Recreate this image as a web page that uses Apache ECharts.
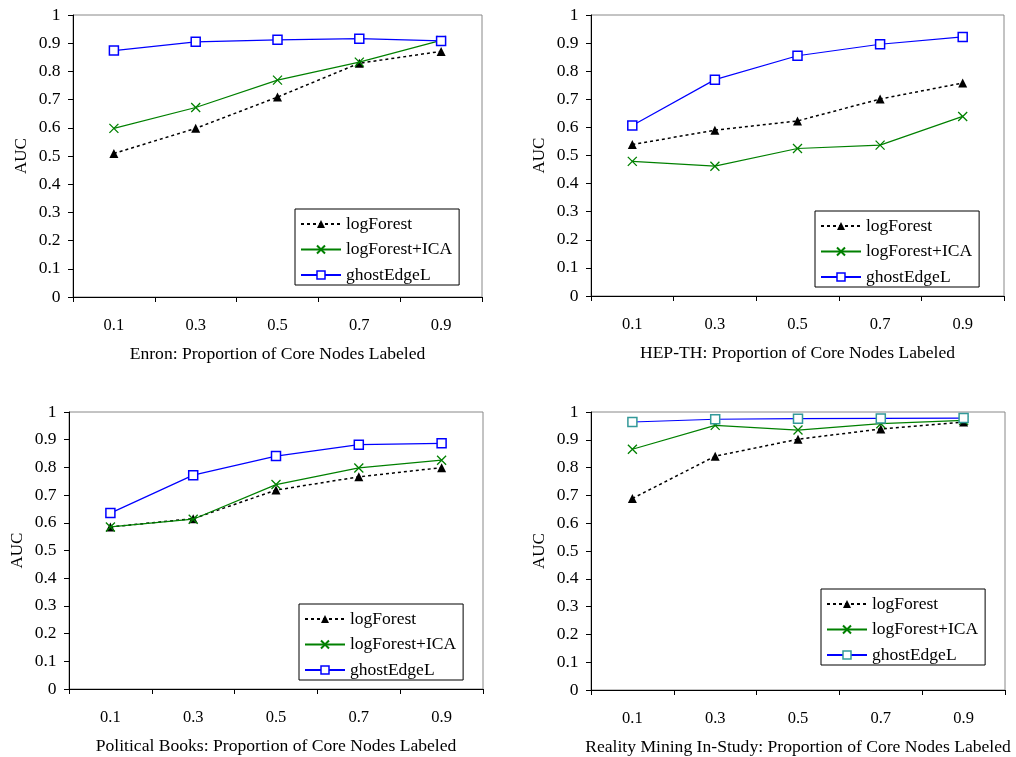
<!DOCTYPE html>
<html>
<head>
<meta charset="utf-8">
<script src="https://cdn.jsdelivr.net/npm/echarts@6/dist/echarts.min.js"></script>
<style>
html,body{margin:0;padding:0;background:#fff;}
#chart{width:1016px;height:757px;}
</style>
</head>
<body>
<div id="chart"></div>
<script>
const categories = ['0.1', '0.3', '0.5', '0.7', '0.9'];
const seriesNames = ['logForest', 'logForest+ICA', 'ghostEdgeL'];
const panelTitles = [
  'Enron: Proportion of Core Nodes Labeled',
  'HEP-TH: Proportion of Core Nodes Labeled',
  'Political Books: Proportion of Core Nodes Labeled',
  'Reality Mining In-Study: Proportion of Core Nodes Labeled'
];
const yTicks = [0, 0.1, 0.2, 0.3, 0.4, 0.5, 0.6, 0.7, 0.8, 0.9, 1];

const enronLogForest    = [0.509, 0.598, 0.709, 0.829, 0.871];
const enronICA          = [0.598, 0.672, 0.769, 0.833, 0.910];
const enronGhost        = [0.874, 0.905, 0.912, 0.916, 0.908];

const hepLogForest      = [0.539, 0.590, 0.623, 0.701, 0.758];
const hepICA            = [0.479, 0.462, 0.525, 0.537, 0.639];
const hepGhost          = [0.607, 0.770, 0.855, 0.896, 0.922];

const booksLogForest    = [0.585, 0.615, 0.718, 0.766, 0.799];
const booksICA          = [0.585, 0.613, 0.738, 0.798, 0.826];
const booksGhost        = [0.635, 0.772, 0.841, 0.882, 0.887];

const realityLogForest  = [0.689, 0.841, 0.902, 0.939, 0.964];
const realityICA        = [0.866, 0.952, 0.935, 0.958, 0.970];
const realityGhost      = [0.964, 0.974, 0.976, 0.977, 0.978];

const panelData = [
  [enronLogForest, enronICA, enronGhost],
  [hepLogForest, hepICA, hepGhost],
  [booksLogForest, booksICA, booksGhost],
  [realityLogForest, realityICA, realityGhost]
];

const FONT = '"Liberation Serif", "Times New Roman", serif';
const grids = [
  {left: 73, top: 15, width: 409, height: 282},
  {left: 591, top: 15, width: 413, height: 281},
  {left: 69, top: 412, width: 414, height: 277},
  {left: 591, top: 412, width: 414, height: 278}
];
const legendPos = [
  {left: 295, top: 209},
  {left: 815, top: 211},
  {left: 299, top: 604},
  {left: 821, top: 589}
];
const ghostMarkerColors = ['#0000ff', '#0000ff', '#0000ff', '#339999'];
const crossPath = 'path://M0,0L10,10M10,0L0,10';

const option = {
  animation: false,
  backgroundColor: '#fff',
  grid: grids.map(g => Object.assign({show: true, borderColor: '#888', borderWidth: 1, backgroundColor: 'transparent'}, g)),
  xAxis: grids.map((g, i) => ({
    type: 'category',
    gridIndex: i,
    data: categories,
    boundaryGap: true,
    name: panelTitles[i],
    nameLocation: 'middle',
    nameGap: 48,
    nameTextStyle: {fontFamily: FONT, fontSize: 17.6, color: '#000'},
    axisLine: {lineStyle: {color: '#000', width: 1}},
    axisTick: {show: true, length: 5, lineStyle: {color: '#000'}},
    axisLabel: {fontFamily: FONT, fontSize: 16.5, color: '#000', margin: 20},
    splitLine: {show: false}
  })),
  yAxis: grids.map((g, i) => ({
    type: 'value',
    gridIndex: i,
    min: 0,
    max: 1,
    interval: 0.1,
    name: 'AUC',
    nameLocation: 'middle',
    nameGap: 43,
    nameTextStyle: {fontFamily: FONT, fontSize: 17, color: '#000'},
    axisLine: {show: true, lineStyle: {color: '#000', width: 1}},
    axisTick: {show: true, length: 5, lineStyle: {color: '#000'}},
    axisLabel: {fontFamily: FONT, fontSize: 17.5, color: '#000', margin: 12.5,
      formatter: v => String(yTicks.find(t => Math.abs(t - v) < 1e-6) ?? v)},
    splitLine: {show: false}
  })),
  legend: grids.map((g, i) => ({
    orient: 'vertical',
    left: legendPos[i].left,
    top: legendPos[i].top,
    selectedMode: false,
    backgroundColor: '#fff',
    borderColor: '#000',
    borderWidth: 1,
    padding: [6, 7, 1, 5],
    itemWidth: 40,
    itemHeight: 10,
    itemGap: 7.5,
    textStyle: {fontFamily: FONT, fontSize: 17.5, color: '#000'},
    data: [
      {name: seriesNames[0]},
      {name: seriesNames[1]},
      {name: seriesNames[2], itemStyle: {color: '#fff', borderColor: ghostMarkerColors[i], borderWidth: 1.5}}
    ]
  })),
  series: []
};

panelData.forEach((arrs, i) => {
  option.series.push({
    name: seriesNames[0], type: 'line', xAxisIndex: i, yAxisIndex: i,
    data: arrs[0], symbol: 'triangle', symbolSize: 9,
    lineStyle: {color: '#000', width: 1.5, type: [3, 3]},
    itemStyle: {color: '#000'}, z: 2
  });
  option.series.push({
    name: seriesNames[1], type: 'line', xAxisIndex: i, yAxisIndex: i,
    data: arrs[1], symbol: crossPath, symbolSize: 9,
    lineStyle: {color: '#008000', width: 1.2},
    itemStyle: {color: 'none', borderColor: '#008000', borderWidth: 1.3}, z: 3
  });
  option.series.push({
    name: seriesNames[2], type: 'line', xAxisIndex: i, yAxisIndex: i,
    data: arrs[2], symbol: 'rect', symbolSize: 9,
    lineStyle: {color: '#0000ff', width: 1.2},
    itemStyle: {color: '#fff', borderColor: ghostMarkerColors[i], borderWidth: 1.5}, z: 4
  });
});

const chart = echarts.init(document.getElementById('chart'), null, {renderer: 'canvas'});
chart.setOption(option);
</script>
</body>
</html>
